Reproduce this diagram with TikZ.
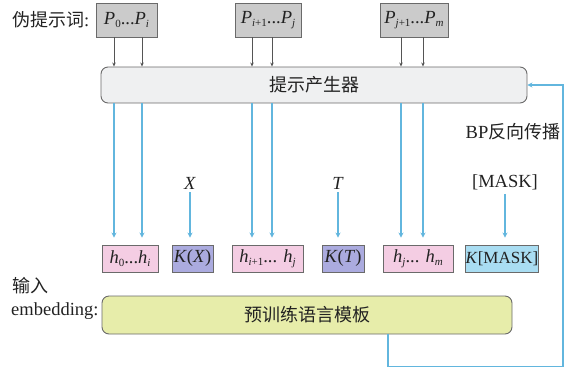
\documentclass[tikz,border=0pt]{standalone}
\usepackage{fontspec}
\setmainfont{Liberation Serif}
\newfontfamily\cjk{Noto Sans CJK SC}
\usetikzlibrary{arrows.meta}

\definecolor{txt}{HTML}{222222}
\definecolor{edge}{HTML}{6A6A6A}
\definecolor{pfill}{HTML}{CBCBCB}
\definecolor{genfill}{HTML}{EFF0F1}
\definecolor{hfill}{HTML}{F4CDE3}
\definecolor{kfill}{HTML}{ABABDF}
\definecolor{mfill}{HTML}{A9DDF2}
\definecolor{lmfill}{HTML}{E7EDAA}
\definecolor{flow}{HTML}{62B6DE}
\definecolor{darkline}{HTML}{555555}

\newcommand{\ip}[1]{\textit{#1}}
\newcommand{\lowidx}[1]{\raisebox{-0.35ex}{\fontsize{11}{12}\selectfont #1}}

\tikzset{
  base/.style={font=\fontsize{18.5}{20}\selectfont, text=txt},
  pbox/.style={base, draw=edge, fill=pfill, line width=0.9pt, minimum height=34pt, inner sep=0pt},
  hbox/.style={base, draw=edge, fill=hfill, line width=0.9pt, minimum height=27pt, inner sep=0pt},
  kbox/.style={hbox, fill=kfill},
  mbox/.style={hbox, fill=mfill, font=\fontsize{17}{19}\selectfont},
  genbox/.style={base, draw=edge, fill=genfill, rounded corners=7pt, line width=0.9pt, minimum height=36pt, inner sep=0pt},
  lmbox/.style={base, draw=edge, fill=lmfill, rounded corners=7pt, line width=0.9pt, minimum height=38pt, inner sep=0pt},
  lbl/.style={base, inner sep=0pt},
  cj/.style={font=\fontsize{18}{20}\selectfont\cjk},
  feed/.style={draw=darkline, line width=0.8pt, -{Stealth[length=4pt,width=3.5pt]}},
  down/.style={draw=flow, line width=1.3pt, -{Stealth[length=5pt,width=5pt]}},
  fback/.style={draw=flow, line width=1.3pt, -{Stealth[length=5pt,width=5pt]}}
}

\begin{document}
\begin{tikzpicture}[x=1pt, y=-1pt]
\useasboundingbox (0,0) rectangle (576,368);

% pseudo prompt tokens
\node[pbox, minimum width=61pt] (p1) at (126.5,20) {\ip{P}\lowidx{0}...\ip{P}\lowidx{\ip{i}}};
\node[pbox, minimum width=66pt] (p2) at (268,20) {\ip{P}\lowidx{\ip{i}+1}...\ip{P}\lowidx{\ip{j}}};
\node[pbox, minimum width=68pt] (p3) at (414,20) {\ip{P}\lowidx{\ip{j}+1}...\ip{P}\lowidx{\ip{m}}};
\node[lbl, anchor=west] (plabel) at (12,20) {{\fontsize{18}{20}\selectfont\cjk 伪提示词}:};

% prompt generator
\node[genbox, cj, minimum width=426pt] (gen) at (314,85) {提示产生器};

% embeddings
\node[hbox, minimum width=56pt] (h1) at (130,258.5) {\ip{h}\lowidx{0}...\ip{h}\lowidx{\ip{i}}};
\node[kbox, minimum width=41pt] (kx) at (192.5,258.5) {\ip{K}(\ip{X})};
\node[hbox, minimum width=71pt] (h2) at (267.5,258.5) {\ip{h}\lowidx{\ip{i}+1}... \ip{h}\lowidx{\ip{j}}};
\node[kbox, minimum width=42pt] (kt) at (343,258.5) {\ip{K}(\ip{T})};
\node[hbox, minimum width=70pt] (h3) at (418,258.5) {\ip{h}\lowidx{\ip{j}}... \ip{h}\lowidx{\ip{m}}};
\node[mbox, minimum width=73pt] (km) at (502,258.5) {\ip{K}[MASK]};

% inputs
\node[lbl] (x) at (190,183) {\ip{X}};
\node[lbl] (t) at (338,183) {\ip{T}};
\node[lbl] (mask) at (505,182) {[MASK]};

% pretrained language model
\node[lmbox, cj, minimum width=410pt] (lm) at (307,315) {预训练语言模板};
\node[lbl, cj, anchor=west] (in1) at (12,286) {输入};
\node[lbl, anchor=west] (in2) at (11,311) {embedding:};

\node[lbl] (bp) at (513,132) {BP{\fontsize{18}{20}\selectfont\cjk 反向传播}};

% arrow columns
\coordinate (c1) at (114,0);
\coordinate (c2) at (142,0);
\coordinate (c3) at (252,0);
\coordinate (c4) at (272,0);
\coordinate (c5) at (401,0);
\coordinate (c6) at (423,0);

\draw[feed] (p1.south -| c1) -- (gen.north -| c1);
\draw[feed] (p1.south -| c2) -- (gen.north -| c2);
\draw[feed] (p2.south -| c3) -- (gen.north -| c3);
\draw[feed] (p2.south -| c4) -- (gen.north -| c4);
\draw[feed] (p3.south -| c5) -- (gen.north -| c5);
\draw[feed] (p3.south -| c6) -- (gen.north -| c6);

\draw[down, shorten >=7pt] (gen.south -| c1) -- (h1.north -| c1);
\draw[down, shorten >=7pt] (gen.south -| c2) -- (h1.north -| c2);
\draw[down, shorten >=7pt] (gen.south -| c3) -- (h2.north -| c3);
\draw[down, shorten >=7pt] (gen.south -| c4) -- (h2.north -| c4);
\draw[down, shorten >=7pt] (gen.south -| c5) -- (h3.north -| c5);
\draw[down, shorten >=7pt] (gen.south -| c6) -- (h3.north -| c6);

\draw[down, shorten <=3pt, shorten >=7pt] (x.south) -- (x.south |- kx.north);
\draw[down, shorten <=3pt, shorten >=7pt] (t.south) -- (t.south |- kt.north);
\draw[down, shorten <=4pt, shorten >=7pt] (mask.south) -- (mask.south |- km.north);

% back-propagation loop
\coordinate (fb1) at (388,366.5);
\coordinate (fb2) at (563,366.5);
\draw[fback] (lm.south -| fb1) -- (fb1) -- (fb2) |- (gen.east);
\end{tikzpicture}
\end{document}
